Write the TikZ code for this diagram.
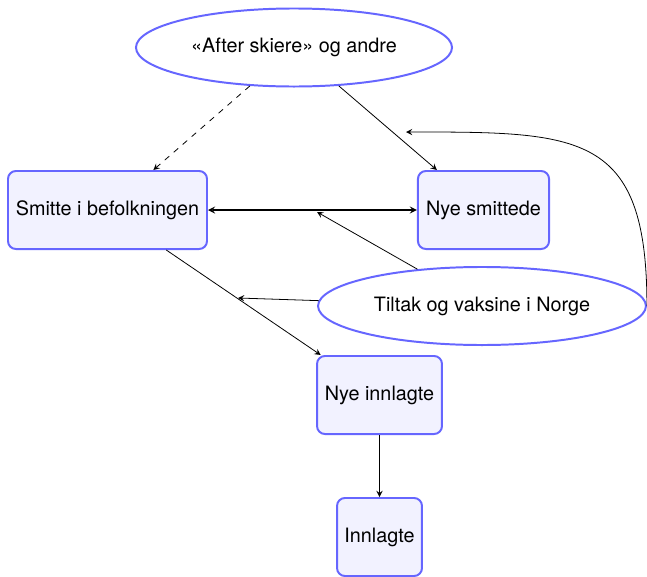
\documentclass[tikz,border=0pt]{standalone}
\usepackage{fontspec}
\setmainfont{TeX Gyre Heros}
\usetikzlibrary{shapes.geometric,arrows}

\begin{document}
\begin{tikzpicture}
  [x=0.505pt, y=-0.505pt, >=stealth,
   boks/.style={draw=blue!60, fill=blue!5, line width=1pt, rounded corners=4pt,
     minimum height=39.4pt, inner sep=0pt},
   sky/.style={ellipse, draw=blue!60, fill=white, line width=1pt,
     minimum height=39.4pt, inner sep=0pt}]
  \useasboundingbox (0, 0) rectangle (647, 577);
  \node[sky, minimum width=159.6pt] (after) at (294, 47.5) {«After skiere» og andre};
  \node[boks, minimum width=100.5pt] (smitte) at (107.5, 210) {Smitte i befolkningen};
  \node[boks, minimum width=66.2pt] (nyesm) at (483.5, 210) {Nye smittede};
  \node[sky, minimum width=165.6pt] (tiltak) at (482, 306) {Tiltak og vaksine i Norge};
  \node[boks, minimum width=63.1pt] (nyeinn) at (379.5, 395) {Nye innlagte};
  \node[boks, minimum width=42.9pt] (innl) at (379.5, 537) {Innlagte};

  \coordinate (m1) at (317, 212);
  \coordinate (m2) at (238, 298);
  \coordinate (m3) at (406, 132);

  \draw[->, dashed] (after) -- (smitte);
  \foreach \from/\to in {after/nyesm,smitte/nyeinn,nyeinn/innl,tiltak/m1,tiltak/m2}
  \draw[->] (\from) -- (\to);
  \draw[semithick, <->] (smitte) -- (nyesm);
  \draw[->] (tiltak.east) to[out=90, in=0, looseness=1.5] (m3);
\end{tikzpicture}
\end{document}
